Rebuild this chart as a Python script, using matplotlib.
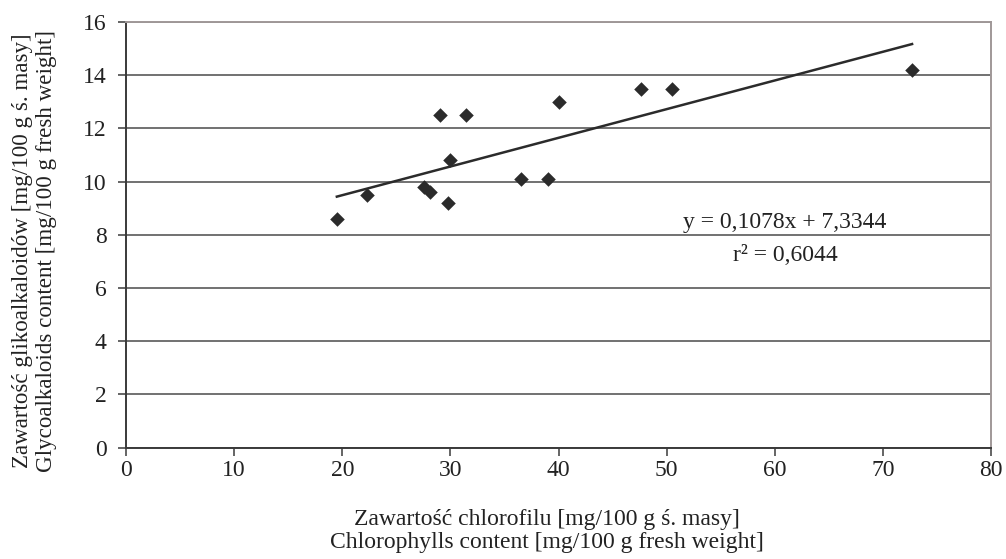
import matplotlib
matplotlib.use("Agg")
import matplotlib.pyplot as plt
import numpy as np

plt.rcParams['font.family'] = ['Liberation Serif', 'DejaVu Serif']

chlorophyll = [19.5, 22.3, 27.6, 28.1, 29.8, 30.0, 29.0, 31.45, 36.5, 39.0, 40.0, 47.6, 50.5, 72.7]
glycoalkaloids = [8.6, 9.5, 9.8, 9.6, 9.2, 10.8, 12.5, 12.5, 10.1, 10.1, 13.0, 13.5, 13.5, 14.2]
slope = 0.1078
intercept = 7.3344
r2_text = "0,6044"
x_ticks = [0, 10, 20, 30, 40, 50, 60, 70, 80]
y_ticks = [0, 2, 4, 6, 8, 10, 12, 14, 16]

fig = plt.figure(figsize=(10.06, 5.59), dpi=100)
ax = fig.add_axes([126/1006, 1-447.7/559, 865/1006, (447.7-22)/559])

dark = '#2b2b2b'
txt = '#222222'
fs = 17
ax.scatter(chlorophyll, glycoalkaloids, marker='D', s=55, color=dark, zorder=3, linewidths=0)
xs = np.array([min(chlorophyll), max(chlorophyll)])
ax.plot(xs, slope*xs + intercept, color=dark, lw=1.8, zorder=3)

ax.set_xlim(0, 80)
ax.set_ylim(0, 16)
ax.set_xticks(x_ticks)
ax.set_yticks(y_ticks)
ax.yaxis.grid(True, color='#4a4a4a', lw=1.1)
ax.set_axisbelow(True)
for s in ['left', 'bottom']:
    ax.spines[s].set_color('#3a3a3a')
    ax.spines[s].set_linewidth(1.4)
for s in ['top', 'right']:
    ax.spines[s].set_color('#a09898')
    ax.spines[s].set_linewidth(1.4)
ax.tick_params(axis='both', direction='out', length=6, width=1.1, color='#3a3a3a',
               labelsize=fs, labelcolor=txt, pad=3)
ax.tick_params(axis='y', pad=8)

ax.set_xlabel("Zawartość chlorofilu [mg/100 g ś. masy]\nChlorophylls content [mg/100 g fresh weight]",
              fontsize=fs, color=txt, linespacing=1.12)
ax.xaxis.set_label_coords(0.487, -0.145, transform=ax.transAxes)
ax.xaxis.label.set_va('top')
ax.set_ylabel("Zawartość glikoalkaloidów [mg/100 g ś. masy]\nGlycoalkaloids content [mg/100 g fresh weight]",
              fontsize=16.6, color=txt, linespacing=1.15)
ax.yaxis.set_label_coords(-0.080, 0.462, transform=ax.transAxes)

ax.text(60.96, 8.48, "y = 0,1078x + 7,3344", fontsize=fs, color=txt, ha='center', va='center')
ax.text(60.96, 7.24, "r² = " + r2_text, fontsize=fs, color=txt, ha='center', va='center')

fig.savefig("out.png", dpi=100)
